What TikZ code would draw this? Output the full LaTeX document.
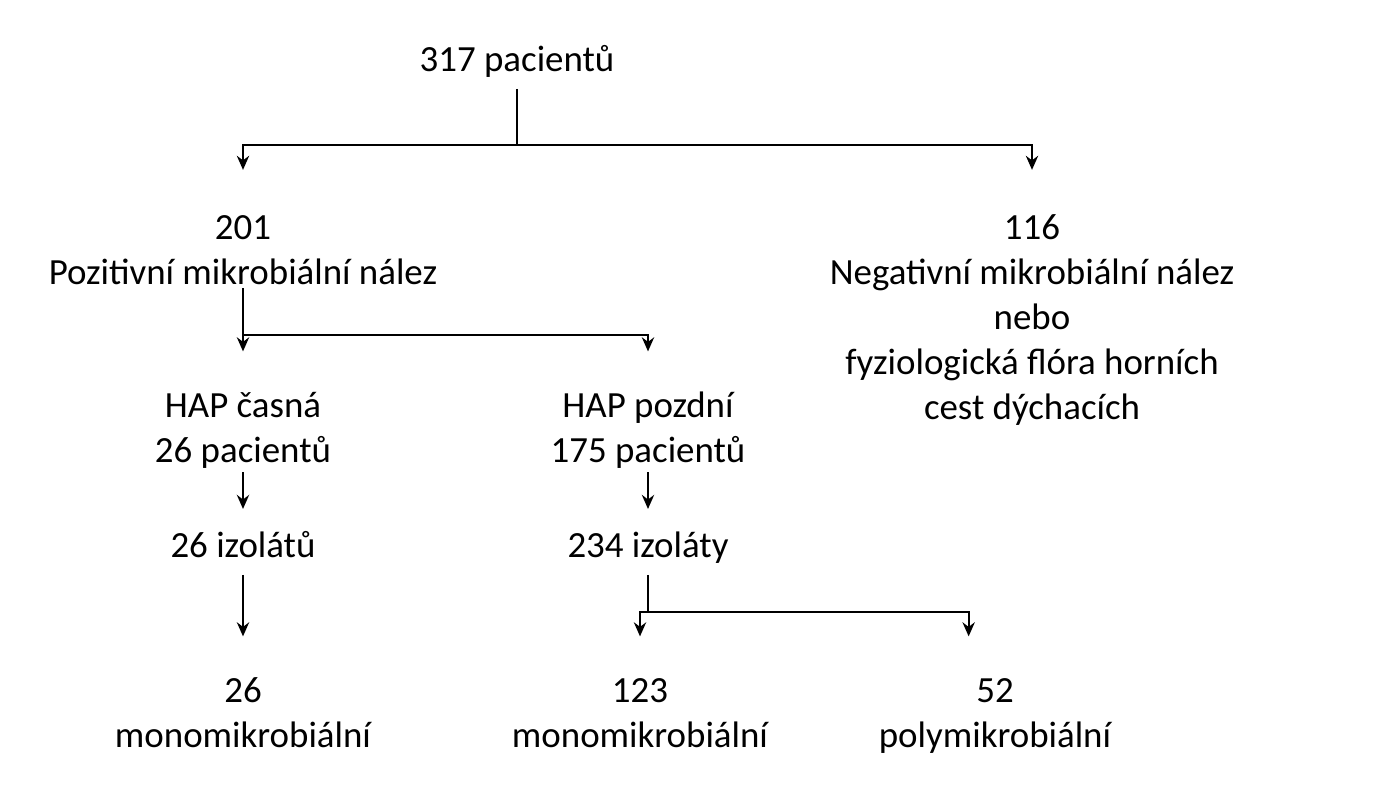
\documentclass[tikz,border=0pt]{standalone}
\usepackage{fontspec}
\setmainfont{Carlito}
\usetikzlibrary{arrows.meta}
\tikzset{
  txt/.style={align=center, anchor=north, inner sep=2pt, outer sep=0pt, font=\fontsize{21}{25.5}\selectfont},
  arrow/.style={line width=1.1pt, -{Stealth[length=8pt,width=7pt]}},
  line/.style={line width=1.1pt}
}
\begin{document}
\begin{tikzpicture}[x=0.02cm, y=-0.02cm]
\useasboundingbox (0,0) rectangle (1378,800);

% Nodes
\node (root) [txt] at (517,37) {\strut 317 pacientů};
\node (pos) [txt] at (243,205) {\strut 201\\Pozitivní mikrobiální nález};
\node (neg) [txt] at (1032,205) {\strut 116\\Negativní mikrobiální nález\\nebo\\fyziologická flóra horních\\cest dýchacích};
\node (early) [txt] at (243,383) {\strut HAP časná\\26 pacientů};
\node (late) [txt] at (648,383) {\strut HAP pozdní\\175 pacientů};
\node (iso1) [txt] at (243,523) {\strut 26 izolátů};
\node (iso2) [txt] at (648,523) {\strut 234 izoláty};
\node (mono1) [txt] at (243,668) {\strut 26\\monomikrobiální};
\node (mono2) [txt] at (640,668) {\strut 123\\monomikrobiální};
\node (poly) [txt] at (995,668) {\strut 52\\polymikrobiální};

% Branch points
\coordinate (b1) at (517,145);
\coordinate (b2) at (243,335);
\coordinate (b3) at (648,612);

% Arrows
\draw [line] (root) -- (b1);
\draw [arrow] (b1) -| ([yshift=20]pos.north);
\draw [arrow] (b1) -| ([yshift=20]neg.north);
\draw [line] (pos) -- (b2);
\draw [arrow] (b2) -- ([yshift=18]early.north);
\draw [arrow] (b2) -| ([yshift=18]late.north);
\draw [arrow] (early) -- ([yshift=8]iso1.north);
\draw [arrow] (late) -- ([yshift=8]iso2.north);
\draw [arrow] (iso1) -- ([yshift=18]mono1.north);
\draw [line] (iso2) -- (b3);
\draw [arrow] (b3) -| ([yshift=18]mono2.north);
\draw [arrow] (b3) -| ([yshift=18,xshift=-15]poly.north);

\end{tikzpicture}
\end{document}
